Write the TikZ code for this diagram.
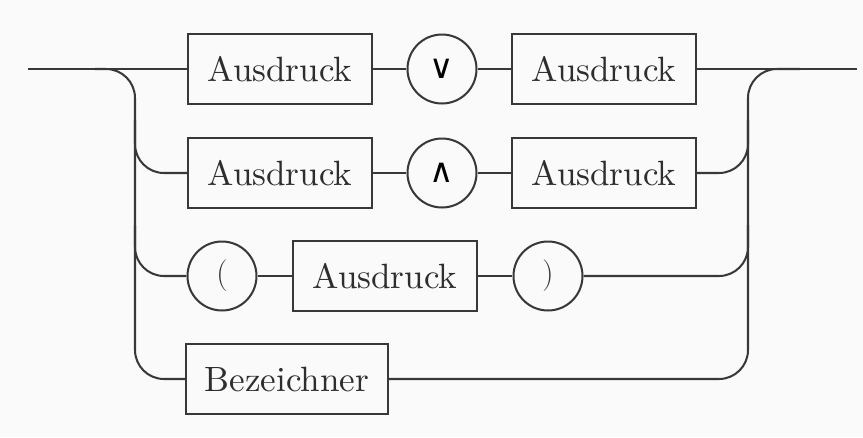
\documentclass[tikz,border=0pt]{standalone}
\usepackage{fontspec}
\newfontfamily\opfont{DejaVu Sans}
\newfontfamily\boxfont{lmroman10-regular}[Extension=.otf]
\begin{document}
\begin{tikzpicture}[x=0.02cm,y=-0.02cm,
  rail/.style={draw=black!78, line width=1.15pt, rounded corners=0.58cm},
  termbox/.style={draw=black!78, line width=1.15pt, rectangle,
    minimum height=1.4cm, minimum width=3.68cm, inner sep=0pt,
    text=black!82, font=\boxfont\fontsize{20}{24}\selectfont},
  termcirc/.style={draw=black!78, line width=1.15pt, circle,
    minimum size=1.38cm, inner sep=0pt},
  opsym/.style={font=\opfont\fontsize{19}{22}\selectfont, text=black},
  paren/.style={font=\fontsize{18}{22}\selectfont, text=black!80}
]
% page background and frame
\fill[black!2] (0,0) rectangle (863,437);
\useasboundingbox (0,0) rectangle (863,437);

% row 1: Ausdruck v Ausdruck
\node[termbox] (a1) at (280,69) {Ausdruck};
\node[termcirc, opsym] (or) at (442,69) {∨};
\node[termbox] (a1b) at (604,69) {Ausdruck};
% row 2: Ausdruck ^ Ausdruck
\node[termbox] (a2) at (280,173) {Ausdruck};
\node[termcirc, opsym] (and) at (442,173) {∧};
\node[termbox] (a2b) at (604,173) {Ausdruck};
% row 3: ( Ausdruck )
\node[termcirc, paren] (lp) at (222,276) {(};
\node[termbox] (a3) at (385,276) {Ausdruck};
\node[termcirc, paren] (rp) at (548,276) {)};
% row 4: Bezeichner
\node[termbox, minimum width=4.04cm] (bz) at (287,379) {Bezeichner};

% entry, exit and rail points
\coordinate (in) at (28,69);
\coordinate (out) at (857,69);
\coordinate (ltop) at (95,69);
\coordinate (lbot) at (135,379);
\coordinate (l2) at (135,120);
\coordinate (l3) at (135,225);
\coordinate (rtop) at (748,69);
\coordinate (rend) at (800,69);
\coordinate (r2) at (748,120);
\coordinate (r3) at (748,225);

% main line through row 1
\draw[rail] (in) -- (a1.west);
\draw[rail] (a1) -- (or);
\draw[rail] (or) -- (a1b);
\draw[rail] (a1b.east) -- (out);
% row 2
\draw[rail] (a2) -- (and);
\draw[rail] (and) -- (a2b);
% row 3
\draw[rail] (lp) -- (a3);
\draw[rail] (a3) -- (rp);

% left rail with branches
\draw[rail] (ltop) -| (lbot) -- (bz.west);
\draw[rail] (l2) |- (a2.west);
\draw[rail] (l3) |- (lp.west);

% right rail with merges
\draw[rail] (bz.east) -| (rtop) -- (rend);
\draw[rail] (a2b.east) -| (r2);
\draw[rail] (rp.east) -| (r3);
\end{tikzpicture}
\end{document}
